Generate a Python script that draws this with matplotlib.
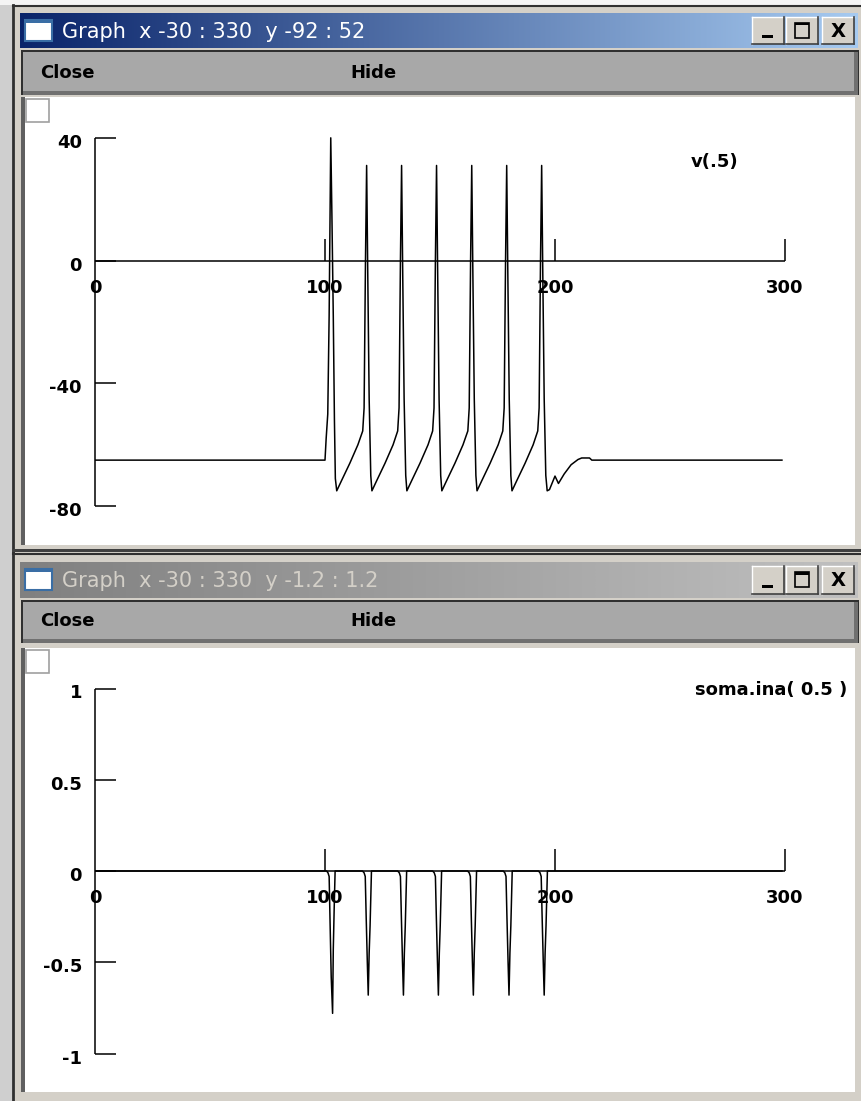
import matplotlib
matplotlib.use("Agg")
import matplotlib.pyplot as plt
import numpy as np
from matplotlib.patches import Rectangle
from matplotlib.transforms import offset_copy

# v(.5) in mV
v_time = [0, 100.0, 100.5, 101.2, 101.8, 102.2, 102.5, 103.0, 103.6, 104.1, 104.5, 105.1,
          107.3, 110.8, 114.3, 116.4,
          117.0, 117.6, 118.1, 118.6, 119.2, 119.9, 120.4,
          122.6, 126.1, 129.6, 131.6,
          132.2, 132.8, 133.3, 133.8, 134.4, 135.1, 135.6,
          137.8, 141.3, 144.8, 146.8,
          147.4, 148.0, 148.5, 149.0, 149.6, 150.3, 150.8,
          153.0, 156.5, 160.0, 162.1,
          162.7, 163.3, 163.8, 164.3, 164.9, 165.6, 166.1,
          168.3, 171.8, 175.3, 177.3,
          177.9, 178.5, 179.0, 179.5, 180.1, 180.8, 181.3,
          183.5, 187.0, 190.5, 192.5,
          193.1, 193.7, 194.2, 194.7, 195.3, 196.0, 196.6,
          197.6, 200.0, 201.5, 204.0, 207.0, 210.0, 211.6, 215.0, 216.0, 299.0]
v_mv = [-65, -65, -58, -50, -18, 15, 40, 15, -18, -52, -71, -75,
        -71.5, -66, -60, -55.5,
        -48, 0, 31, -5, -45, -70, -75,
        -71.5, -66, -60, -55.5,
        -48, 0, 31, -5, -45, -70, -75,
        -71.5, -66, -60, -55.5,
        -48, 0, 31, -5, -45, -70, -75,
        -71.5, -66, -60, -55.5,
        -48, 0, 31, -5, -45, -70, -75,
        -71.5, -66, -60, -55.5,
        -48, 0, 31, -5, -45, -70, -75,
        -71.5, -66, -60, -55.5,
        -48, 0, 31, -5, -45, -70, -75,
        -74.6, -70.2, -72.6, -69.5, -66.5, -64.8, -64.3, -64.3, -65, -65]

# soma.ina(0.5)
ina_time = [0, 100.7, 101.3, 101.8, 102.2, 102.7, 103.3, 103.6, 104.0, 104.4,
            116.3, 117.0, 117.5, 117.9, 118.4, 118.8, 119.2, 119.6, 120.2,
            131.6, 132.3, 132.8, 133.2, 133.7, 134.1, 134.5, 134.9, 135.5,
            146.8, 147.5, 148.0, 148.4, 148.9, 149.3, 149.7, 150.1, 150.7,
            162.0, 162.7, 163.2, 163.6, 164.1, 164.5, 164.9, 165.3, 165.9,
            177.5, 178.2, 178.7, 179.1, 179.6, 180.0, 180.4, 180.8, 181.4,
            192.8, 193.5, 194.0, 194.4, 194.9, 195.3, 195.7, 196.1, 196.7,
            299.0]
ina_val = [0, 0, -0.01, -0.03, -0.28, -0.58, -0.78, -0.43, -0.2, 0,
           0, -0.01, -0.03, -0.25, -0.5, -0.68, -0.45, -0.3, 0,
           0, -0.01, -0.03, -0.25, -0.5, -0.68, -0.45, -0.3, 0,
           0, -0.01, -0.03, -0.25, -0.5, -0.68, -0.45, -0.3, 0,
           0, -0.01, -0.03, -0.25, -0.5, -0.68, -0.45, -0.3, 0,
           0, -0.01, -0.03, -0.25, -0.5, -0.68, -0.45, -0.3, 0,
           0, -0.01, -0.03, -0.25, -0.5, -0.68, -0.45, -0.3, 0,
           0]

x_ticks = [0, 100, 200, 300]
v_yticks = [40, 0, -40, -80]
ina_yticks = [1, 0.5, 0, -0.5, -1]

W, H = 862, 1101
LABEL_FONT = "DejaVu Sans"
TITLE_FONT = "DejaVu Sans"


def px(x0, y0, x1, y1):
    """figure-relative rect from pixel box (y measured from top)"""
    return [x0 / W, 1 - y1 / H, (x1 - x0) / W, (y1 - y0) / H]


def gradient(bg, x0, y0, x1, y1, c0, c1):
    c0 = np.array(matplotlib.colors.to_rgb(c0))
    c1 = np.array(matplotlib.colors.to_rgb(c1))
    f = np.linspace(0, 1, 256)[None, :, None]
    img = c0 * (1 - f) + c1 * f
    bg.imshow(img, extent=(x0, x1, y1, y0), aspect="auto", interpolation="bilinear", zorder=2)


def button(bg, x0, y0, x1, y1, kind):
    bg.add_patch(Rectangle((x0, y0), x1 - x0, y1 - y0, facecolor="#d4d0c8", edgecolor="none", zorder=3))
    bg.plot([x0, x1], [y0, y0], color="white", lw=1, zorder=4)
    bg.plot([x0, x0], [y0, y1], color="white", lw=1, zorder=4)
    bg.plot([x0, x1], [y1, y1], color="#404040", lw=1.2, zorder=4)
    bg.plot([x1, x1], [y0, y1], color="#404040", lw=1.2, zorder=4)
    cx, cy = (x0 + x1) / 2, (y0 + y1) / 2
    if kind == "min":
        bg.add_patch(Rectangle((cx - 6, y1 - 9), 11, 3, facecolor="black", zorder=5))
    elif kind == "max":
        bg.add_patch(Rectangle((cx - 7, cy - 8), 14, 15, facecolor="none", edgecolor="black", lw=1.2, zorder=5))
        bg.add_patch(Rectangle((cx - 7, cy - 8), 14, 2.5, facecolor="black", zorder=5))
    else:
        bg.text(cx, cy + 1, "X", ha="center", va="center", fontsize=14, fontweight="bold",
                family="DejaVu Sans", zorder=5)


def window(bg, top, bottom, title_y, menu_y, canvas_y, active, title):
    bg.add_patch(Rectangle((13, top), W - 13, bottom - top, facecolor="#d4d0c8",
                           edgecolor="none", zorder=1))
    bg.plot([13.5, 13.5], [top, bottom], color="#303030", lw=2, zorder=1.5)
    bg.plot([13, W], [top + 0.5, top + 0.5], color="#303030", lw=1.5, zorder=1.5)
    if active:
        gradient(bg, 20, title_y[0], 858, title_y[1], "#0a246a", "#a6caf0")
        tcol = "white"
    else:
        gradient(bg, 20, title_y[0], 858, title_y[1], "#808080", "#c0c0c0")
        tcol = "#d4d0c8"
    ty = (title_y[0] + title_y[1]) / 2
    # window icon
    bg.add_patch(Rectangle((25, ty - 11), 27, 21, facecolor="white", edgecolor="#3a6ea5", lw=1.5, zorder=3))
    bg.add_patch(Rectangle((25, ty - 11), 27, 3, facecolor="#3a6ea5", zorder=3))
    bg.text(62, ty + 1, title, color=tcol, fontsize=15, family=TITLE_FONT, va="center", ha="left", zorder=3)
    b0, b1 = title_y[0] + 4, title_y[1] - 4
    button(bg, 752, b0, 784, b1, "min")
    button(bg, 786, b0, 818, b1, "max")
    button(bg, 822, b0, 854, b1, "close")
    # menu bar
    bg.add_patch(Rectangle((21, menu_y[0] - 2), 838, menu_y[1] - menu_y[0] + 2, facecolor="#303030", zorder=2))
    bg.add_patch(Rectangle((23, menu_y[0]), 835, menu_y[1] - menu_y[0], facecolor="#a8a8a8",
                           edgecolor="none", zorder=3))
    bg.add_patch(Rectangle((23, menu_y[1] - 4), 835, 4, facecolor="#707070", zorder=3))
    bg.add_patch(Rectangle((854, menu_y[0]), 4, menu_y[1] - menu_y[0], facecolor="#707070", zorder=3))
    my = (menu_y[0] + menu_y[1]) / 2 - 1
    bg.text(40, my, "Close", fontsize=13, fontweight="bold", family=LABEL_FONT, va="center", zorder=4)
    bg.text(350, my, "Hide", fontsize=13, fontweight="bold", family=LABEL_FONT, va="center", zorder=4)
    # canvas
    bg.add_patch(Rectangle((21, canvas_y[0]), 4, canvas_y[1] - canvas_y[0], facecolor="#606060", zorder=2))
    bg.add_patch(Rectangle((25, canvas_y[0]), 830, canvas_y[1] - canvas_y[0], facecolor="white",
                           edgecolor="none", zorder=2))
    bg.add_patch(Rectangle((26, canvas_y[0] + 2), 23, 23, facecolor="white", edgecolor="#a0a0a0",
                           lw=1.2, zorder=3))


def graph(fig, box, ylim, t, y, yticks, tick_len, label, label_xy, label_ha):
    ax = fig.add_axes(px(*box))
    ax.set_xlim(-30, 330)
    ax.set_ylim(*ylim)
    ax.axis("off")
    ax.patch.set_alpha(0)
    k = dict(color="black", lw=1.1, solid_capstyle="butt")
    # NEURON style axes
    ax.plot([0, 300], [0, 0], **k)
    ax.plot([0, 0], [min(yticks), max(yticks)], **k)
    for yt in yticks:
        ax.plot([0, 9], [yt, yt], **k)
    for xt in x_ticks[1:]:
        ax.plot([xt, xt], [0, tick_len], **k)
    ax.plot(t, y, **k)
    fnt = dict(fontsize=13, fontweight="bold", family=LABEL_FONT, color="black")
    below = offset_copy(ax.transData, fig=fig, x=0, y=-27, units="dots")
    for xt in x_ticks:
        ax.text(xt, 0, f"{xt:g}", transform=below, ha="center", va="center", **fnt)
    left = offset_copy(ax.transData, fig=fig, x=-13, y=-5, units="dots")
    for yt in yticks:
        ax.text(0, yt, f"{yt:g}", transform=left, ha="right", va="center", **fnt)
    ax.text(*label_xy, label, transform=ax.transData, ha=label_ha, va="center", **fnt)
    return ax


fig = plt.figure(figsize=(W / 100, H / 100), dpi=100)
fig.patch.set_facecolor("#ece9d8")
bg = fig.add_axes([0, 0, 1, 1])
bg.set_xlim(0, W)
bg.set_ylim(H, 0)
bg.axis("off")

bg.add_patch(Rectangle((0, 0), 13, H, facecolor="#cfcfcf", zorder=0))
bg.add_patch(Rectangle((0, 0), W, 5, facecolor="#f4f4f4", zorder=0))

window(bg, 5, 553, (13, 48), (52, 95), (97, 545), True, "Graph  x -30 : 330  y -92 : 52")
window(bg, 553, H, (562, 598), (602, 643), (648, 1092), False, "Graph  x -30 : 330  y -1.2 : 1.2")
bg.add_patch(Rectangle((13, 549), W - 13, 3, facecolor="#404040", zorder=2))

graph(fig, (26, 101, 854, 543), (-92, 52), v_time, v_mv, v_yticks, 7.2,
      "v(.5)", (259, 32), "left")
graph(fig, (26, 652, 854, 1090), (-1.2, 1.2), ina_time, ina_val, ina_yticks, 0.12,
      "soma.ina( 0.5 )", (327, 0.99), "right")

fig.savefig("out.png", dpi=100)
